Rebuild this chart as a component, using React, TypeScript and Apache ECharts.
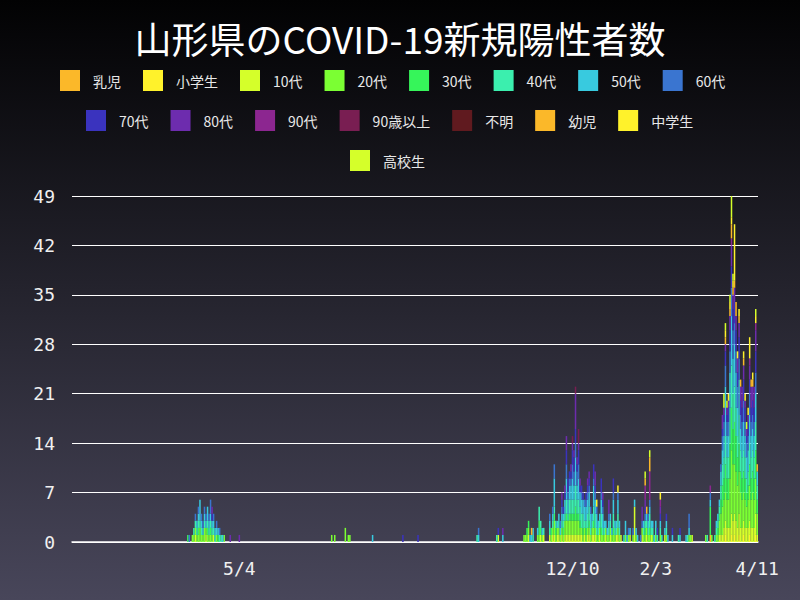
import React, { useEffect, useRef } from "react";
import * as echarts from "echarts";

// Categories: one per day from START_DATE
const START_DATE = "2020-01-15";
const DAY_COUNT = 453;
const xTickDates = ["2020-05-04", "2020-12-10", "2021-02-03", "2021-04-11"];

const groupNames = [
  "乳児", "小学生", "10代", "20代", "30代", "40代", "50代", "60代",
  "70代", "80代", "90代", "90歳以上", "不明", "幼児", "中学生", "高校生",
];
const groupColors = [
  "#fbb829", "#fff22b", "#d5ff2a", "#7bff33", "#36f55a", "#3befae", "#38cadf", "#3a75d0",
  "#3a33be", "#6d2cae", "#8c2690", "#791e52", "#601a1f", "#fbb829", "#fff22b", "#d5ff2a",
];

// [day index from START_DATE, count]
const infant = [[421, 1]];
const elementary = [[431,1],[435,1],[437,1],[440,1],[443,1],[447,1],[451,1]];
const teens = [[81,1],[88,1],[93,1],[281,1],[301,1],[309,1],[311,1],[315,1],[317,1],[318,1],[320,1],[321,1],[323,1],[325,1],[326,1],[327,1],[328,1],[329,1],[330,1],[331,1],[332,1],[333,1],[334,1],[335,1],[336,1],[338,1],[340,1],[341,1],[343,1],[344,1],[345,1],[348,1],[352,1],[355,1],[359,1],[360,1],[362,1],[368,1],[371,5],[376,1],[379,1],[382,1],[391,1],[409,1],[427,1],[428,1],[429,1],[430,2],[431,2],[432,2],[433,2],[434,2],[435,3],[436,3],[437,3],[438,3],[439,2],[440,3],[441,2],[442,2],[443,2],[444,2],[445,2],[446,2],[447,2],[448,2],[449,2],[450,2],[451,3],[452,1]];
const age20 = [[79,1],[80,1],[81,1],[82,1],[83,1],[84,2],[85,1],[86,1],[87,2],[88,1],[89,1],[90,1],[91,1],[92,1],[95,1],[100,1],[171,1],[173,1],[180,2],[182,1],[183,1],[298,1],[299,1],[300,1],[301,1],[307,1],[308,1],[310,1],[316,1],[317,1],[318,2],[319,1],[320,1],[321,1],[322,1],[323,1],[324,1],[325,2],[326,2],[327,2],[328,2],[329,2],[330,2],[331,2],[332,2],[333,2],[334,2],[335,1],[336,1],[337,1],[338,1],[339,1],[340,1],[341,1],[342,1],[343,1],[344,1],[345,1],[346,1],[347,1],[348,1],[349,1],[350,1],[351,1],[352,1],[353,1],[354,1],[355,1],[356,1],[357,1],[358,1],[360,1],[361,1],[365,1],[367,1],[370,1],[372,1],[376,1],[377,1],[378,1],[379,1],[380,1],[381,1],[383,1],[385,1],[388,1],[392,1],[407,1],[408,1],[418,1],[422,1],[425,1],[426,1],[427,2],[428,3],[429,4],[430,4],[431,4],[432,4],[433,4],[434,7],[435,9],[436,8],[437,7],[438,7],[439,6],[440,6],[441,5],[442,4],[443,4],[444,4],[445,3],[446,4],[447,5],[448,4],[449,5],[450,4],[451,5],[452,3]];
const age30 = [[76,1],[83,1],[89,1],[91,1],[96,1],[300,1],[301,1],[308,2],[309,1],[316,1],[318,1],[319,1],[324,1],[326,1],[328,1],[329,1],[330,1],[331,1],[332,2],[333,1],[334,1],[335,1],[337,1],[339,1],[341,1],[344,1],[349,1],[357,1],[378,1],[381,1],[421,4],[426,1],[427,1],[428,2],[429,3],[430,3],[431,4],[432,3],[433,3],[434,5],[435,6],[436,5],[437,6],[438,5],[439,4],[440,4],[441,3],[442,3],[443,3],[444,3],[445,2],[446,2],[447,3],[448,3],[449,3],[450,3],[451,4],[452,2]];
const age40 = [[80,1],[81,1],[82,1],[83,1],[84,1],[85,1],[87,1],[89,1],[90,1],[91,1],[92,1],[93,1],[94,1],[97,1],[98,1],[267,1],[280,1],[304,1],[308,2],[309,1],[311,1],[315,1],[317,1],[318,1],[319,1],[321,1],[323,1],[324,1],[325,1],[326,2],[327,1],[328,2],[329,2],[330,2],[331,2],[332,3],[333,2],[334,2],[335,2],[336,2],[337,2],[338,1],[339,1],[340,2],[341,2],[342,1],[343,1],[344,2],[345,2],[346,1],[347,1],[348,1],[349,2],[350,1],[351,1],[354,1],[355,1],[357,2],[358,1],[359,1],[360,2],[361,1],[364,1],[377,1],[378,1],[379,1],[380,1],[381,2],[382,1],[383,1],[385,1],[386,1],[388,1],[389,1],[392,1],[400,1],[406,1],[419,1],[424,1],[425,1],[426,1],[427,1],[428,2],[429,3],[430,3],[431,4],[432,3],[433,3],[434,5],[435,6],[436,5],[437,5],[438,4],[439,3],[440,4],[441,3],[442,3],[443,3],[444,3],[445,2],[446,2],[447,3],[448,3],[449,3],[450,3],[451,4],[452,2]];
const age50 = [[82,1],[83,1],[84,3],[85,1],[86,1],[87,1],[88,1],[89,2],[90,1],[91,1],[92,1],[93,1],[94,1],[95,1],[96,1],[99,1],[198,1],[268,1],[284,1],[302,1],[303,1],[304,1],[307,1],[310,1],[315,1],[317,1],[318,4],[320,1],[321,1],[322,1],[323,1],[324,1],[325,2],[326,3],[327,2],[328,2],[329,2],[330,3],[331,2],[332,4],[333,2],[334,3],[335,2],[336,2],[337,2],[338,2],[339,2],[340,2],[341,2],[342,2],[343,1],[344,3],[345,2],[346,2],[347,1],[348,1],[349,2],[350,2],[351,1],[352,1],[353,1],[354,1],[355,1],[356,1],[357,2],[358,1],[359,1],[360,2],[361,1],[365,2],[366,1],[368,1],[371,1],[372,1],[373,1],[377,1],[379,1],[380,1],[381,1],[382,1],[383,1],[384,1],[385,1],[388,1],[391,1],[392,1],[393,1],[396,1],[401,1],[405,1],[407,1],[421,1],[425,1],[426,1],[427,1],[428,2],[429,2],[430,3],[431,7],[432,3],[433,3],[434,5],[435,7],[436,5],[437,6],[438,5],[439,4],[440,5],[441,3],[442,3],[443,4],[444,3],[445,3],[446,3],[447,4],[448,3],[449,3],[450,3],[451,4],[452,2]];
const age60 = [[77,1],[81,1],[83,1],[85,1],[86,1],[87,1],[88,1],[90,1],[91,2],[93,1],[95,1],[97,1],[268,1],[315,1],[317,1],[318,2],[322,1],[323,1],[326,2],[327,1],[328,1],[329,1],[330,2],[331,2],[332,2],[333,2],[334,2],[336,1],[338,1],[339,1],[340,1],[341,1],[342,1],[344,1],[345,1],[346,1],[349,1],[350,1],[354,1],[357,1],[360,1],[367,1],[370,1],[375,1],[376,1],[378,1],[380,1],[381,1],[407,2],[421,1],[428,1],[429,2],[430,2],[431,3],[432,2],[433,2],[434,3],[435,4],[436,4],[437,3],[438,3],[439,3],[440,3],[441,2],[442,2],[443,3],[444,2],[445,2],[446,2],[447,3],[448,2],[449,2],[450,2],[451,3]];
const age70 = [[92,1],[218,1],[228,1],[281,1],[323,1],[324,1],[325,1],[326,2],[327,2],[328,1],[329,1],[330,2],[331,2],[332,2],[333,1],[334,2],[335,1],[336,1],[337,1],[339,1],[340,1],[341,1],[344,2],[345,1],[349,2],[350,1],[357,2],[378,1],[386,1],[388,1],[392,1],[396,1],[401,1],[429,1],[430,1],[431,2],[432,1],[433,2],[434,3],[435,3],[436,3],[437,3],[438,3],[439,2],[440,3],[441,2],[442,2],[443,3],[444,2],[445,1],[446,2],[447,2],[448,2],[449,2],[450,2],[451,3]];
const age80 = [[92,1],[104,1],[110,1],[284,1],[323,1],[325,1],[326,2],[329,1],[330,1],[331,1],[332,5],[333,1],[334,1],[335,1],[340,1],[341,1],[345,2],[350,1],[354,2],[376,2],[378,1],[388,1],[429,2],[430,1],[431,1],[432,1],[433,1],[434,2],[435,3],[436,2],[437,2],[438,2],[439,2],[440,2],[441,2],[442,3],[443,2],[444,1],[445,1],[446,1],[447,2],[448,3],[449,2],[450,3],[451,3]];
const age90 = [[378,2],[381,4],[388,1],[421,1],[435,1],[447,1],[451,1]];
const age90plus = [[330,1],[332,1],[334,2]];
const unknown: number[][] = [];
const preschool = [[303,1],[378,1],[379,1],[381,2],[431,1],[434,1],[435,2],[436,1],[437,1],[438,2],[440,1],[441,1],[443,1],[448,1],[449,1],[452,1]];
const juniorHigh = [[346,1],[360,1],[388,1],[431,1],[433,1],[434,1],[435,1],[436,1],[437,8],[439,1],[440,1],[443,1],[444,1],[446,1],[447,3],[449,1],[451,1]];
const highSchool = [[378,1],[381,1],[430,2],[431,1],[432,1],[434,1],[435,3],[436,1],[445,1],[451,1]];

const groupCounts = [
  infant, elementary, teens, age20, age30, age40, age50, age60,
  age70, age80, age90, age90plus, unknown, preschool, juniorHigh, highSchool,
];

function buildDates(): string[] {
  const out: string[] = [];
  const d0 = new Date(START_DATE + "T00:00:00Z").getTime();
  for (let i = 0; i < DAY_COUNT; i++) {
    const d = new Date(d0 + i * 86400000);
    const y = d.getUTCFullYear();
    const m = String(d.getUTCMonth() + 1).padStart(2, "0");
    const dd = String(d.getUTCDate()).padStart(2, "0");
    out.push(`${y}-${m}-${dd}`);
  }
  return out;
}

function textWidth(s: string): number {
  let w = 0;
  for (const ch of s) w += ch.charCodeAt(0) < 256 ? 7 : 14;
  return w;
}

export default function App() {
  const ref = useRef<HTMLDivElement>(null);
  useEffect(() => {
    if (!ref.current) return;
    const chart = echarts.init(ref.current, null, { renderer: "svg" });
    const dates = buildDates();
    const series = groupNames.map((name, gi) => {
      const arr = new Array(DAY_COUNT).fill(0);
      for (const [day, n] of groupCounts[gi]) arr[day] = n;
      return {
        name,
        type: "bar",
        stack: "total",
        data: arr,
        barCategoryGap: "0%",
        itemStyle: { color: groupColors[gi] },
        emphasis: { disabled: true },
      };
    });
    const legendRow = (names: string[], left: number, top: number) => ({
      show: true,
      left,
      top,
      padding: 0,
      orient: "horizontal",
      icon: "rect",
      itemWidth: 20,
      itemHeight: 21,
      itemGap: 22,
      selectedMode: false,
      data: names.map((n) => ({ name: n, textStyle: { width: textWidth(n) } })),
      textStyle: {
        color: "#e8e8e8",
        fontSize: 14,
        fontFamily: "Noto Sans CJK JP",
        padding: [0, 0, 0, 8],
      },
    });
    chart.setOption({
      animation: false,
      backgroundColor: new echarts.graphic.LinearGradient(0, 0, 0, 1, [
        { offset: 0, color: "#020203" },
        { offset: 1, color: "#48465a" },
      ]),
      title: {
        text: "山形県のCOVID-19新規陽性者数",
        left: "center",
        top: 14,
        textStyle: {
          color: "#ffffff",
          fontSize: 37,
          fontWeight: "normal",
          fontFamily: "Noto Sans CJK JP",
        },
      },
      legend: [
        legendRow(groupNames.slice(0, 8), 60, 70),
        legendRow(groupNames.slice(8, 15), 86, 110),
        legendRow(groupNames.slice(15), 350, 150),
      ],
      grid: { left: 72, right: 42, top: 196, bottom: 58 },
      xAxis: {
        type: "category",
        data: dates,
        boundaryGap: true,
        axisLine: { show: true, lineStyle: { color: "#ffffff", width: 1.5 } },
        axisTick: { show: false },
        axisLabel: {
          interval: (_i: number, v: string) => xTickDates.includes(v),
          formatter: (v: string) => {
            const [, m, d] = v.split("-");
            return `${Number(m)}/${Number(d)}`;
          },
          color: "#f0f0f0",
          fontSize: 18,
          fontFamily: "DejaVu Sans Mono",
          margin: 17,
        },
        splitLine: { show: false },
      },
      yAxis: {
        type: "value",
        min: 0,
        max: 49,
        interval: 7,
        axisLine: { show: false },
        axisTick: { show: false },
        axisLabel: {
          color: "#f0f0f0",
          fontSize: 18,
          fontFamily: "DejaVu Sans Mono",
          margin: 17,
        },
        splitLine: { show: true, lineStyle: { color: "#ffffff", width: 1 } },
      },
      series,
    });
    return () => chart.dispose();
  }, []);
  return (
    <div
      ref={ref}
      style={{ position: "fixed", left: 0, top: 0, width: 800, height: 600 }}
    />
  );
}
